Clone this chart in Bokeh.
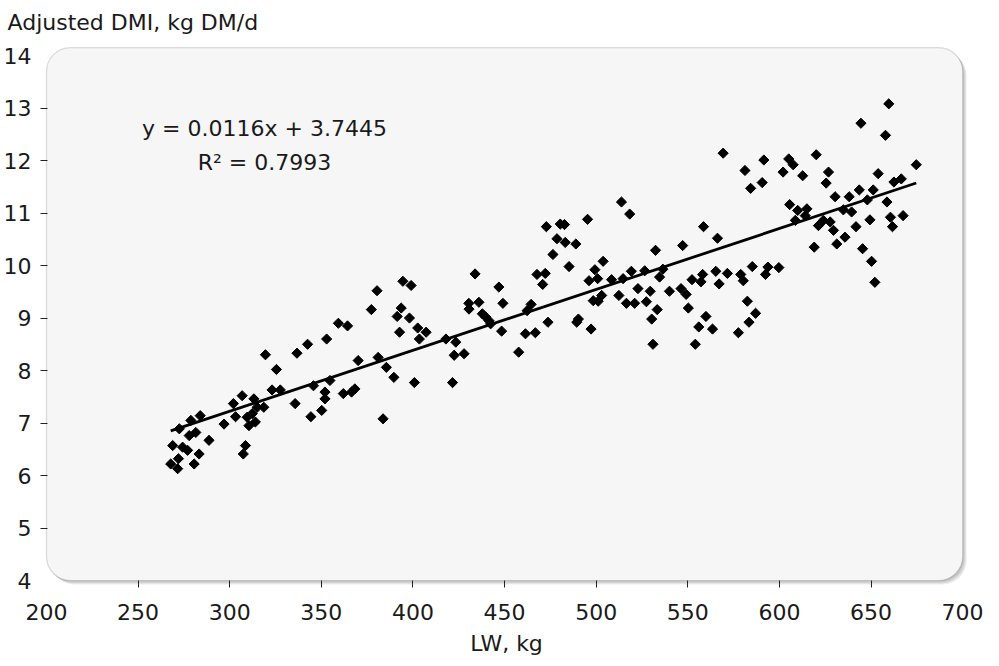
import math
from bokeh.plotting import figure
from bokeh.models import Range1d, FixedTicker, BoxAnnotation, Label, ColumnDataSource
from bokeh.embed import file_html
from bokeh.resources import INLINE

# ---- data ----
lw = [
    267.8, 271.6, 268.9, 274.3, 277.0, 272.0, 280.6, 283.3, 272.5, 277.9,
    281.5, 278.8, 283.9, 288.7, 296.9, 303.2, 302.0, 306.8, 308.6, 307.4,
    310.5, 309.5, 313.2, 315.0, 312.3, 314.0, 318.6, 319.5, 325.5, 323.1,
    327.6, 335.7, 336.7, 342.5, 344.3, 345.7,
    350.2, 352.9, 354.7, 352.0, 352.0, 362.0, 368.3, 366.5, 359.3, 364.3,
    370.1, 377.3, 380.4, 381.0, 385.5, 383.7, 389.6, 392.7, 391.4, 393.6,
    394.5, 399.0, 398.1, 402.6, 407.2, 403.5, 400.8, 418.0, 423.4, 422.5,
    427.9, 421.6, 430.6, 430.5,
    433.9, 436.0, 437.9, 439.7, 441.5, 442.4, 446.9, 449.1, 448.4, 457.7,
    461.4, 466.8, 462.3, 464.5, 467.7, 472.2, 470.8, 473.7, 472.8, 476.4,
    478.6, 480.4, 482.7, 483.1, 488.9, 485.2, 495.3, 490.3, 489.4, 497.2,
    496.1, 499.3, 500.8, 503.8, 498.4, 501.1, 503.0, 508.4, 512.4, 513.8,
    518.3, 514.7, 516.5, 519.2, 521.0, 522.8, 526.5, 529.5, 527.4, 532.4,
    533.3, 530.3, 531.0, 534.6, 536.4, 540.0, 547.2, 546.3, 549.1, 550.3,
    552.3, 554.1, 556.0, 557.2, 558.1, 558.6, 559.9, 563.5, 565.3, 566.2,
    567.1, 569.3, 571.6, 577.6, 578.9, 580.3, 582.5, 583.4, 587.0, 581.2,
    584.3, 590.6, 591.5, 585.2, 592.4, 593.7, 599.7,
    602.0, 605.1, 607.5, 620.1, 612.7, 626.8, 625.5, 605.6, 610.0, 615.0,
    608.7, 614.1, 619.0, 621.3, 624.0, 627.7, 629.5, 631.3, 630.4, 635.8,
    634.9, 638.1, 639.4, 641.8, 643.6, 645.4, 648.0, 649.4, 650.3, 652.1,
    651.2, 653.9, 658.7, 660.6, 661.7, 662.5, 666.5, 667.5, 674.7,
    659.7, 644.5, 657.9,
]
dmi = [
    6.22, 6.13, 6.57, 6.54, 6.48, 6.32, 6.22, 6.41, 6.89, 6.76,
    6.82, 7.05, 7.14, 6.67, 6.98, 7.12, 7.37, 7.52, 6.57, 6.41,
    6.95, 7.11, 7.46, 7.30, 7.18, 7.02, 7.30, 8.30, 8.02, 7.63,
    7.63, 7.37, 8.33, 8.50, 7.12, 7.71,
    7.24, 8.60, 7.81, 7.59, 7.46, 7.56, 7.65, 7.59, 8.90, 8.85,
    8.19, 9.16, 9.52, 8.25, 8.06, 7.08, 7.87, 8.73, 9.03, 9.19,
    9.70, 9.62, 9.00, 8.81, 8.73, 8.60, 7.77, 8.60, 8.54, 8.29,
    8.32, 7.77, 9.17, 9.28,
    9.84, 9.30, 9.08, 9.02, 8.95, 8.89, 9.59, 9.28, 8.75, 8.35,
    8.70, 8.72, 9.14, 9.26, 9.83, 9.85, 9.64, 8.92, 10.74, 10.21,
    10.51, 10.79, 10.78, 10.44, 10.41, 9.98, 10.88, 8.98, 8.92, 8.79,
    9.71, 9.92, 9.75, 10.08, 9.33, 9.32, 9.43, 9.73, 9.43, 11.21,
    10.98, 9.75, 9.28, 9.89, 9.28, 9.56, 9.90, 9.51, 9.31, 10.29,
    9.16, 8.98, 8.50, 9.78, 9.93, 9.51, 10.38, 9.56, 9.45, 9.19,
    9.73, 8.50, 8.83, 9.69, 9.83, 10.74, 9.03, 8.79, 9.89, 10.52,
    9.65, 12.14, 9.85, 8.72, 9.83, 9.71, 9.32, 8.92, 9.09, 11.81,
    11.47, 11.58, 12.01, 9.98, 9.83, 9.97, 9.96,
    11.78, 12.03, 11.92, 12.11, 11.71, 11.78, 11.57, 11.16, 11.05, 11.08,
    10.86, 10.95, 10.35, 10.76, 10.86, 10.83, 10.67, 10.41, 11.31, 10.54,
    11.06, 11.31, 11.02, 10.74, 11.44, 10.32, 11.25, 10.87, 10.08, 9.68,
    11.44, 11.75, 11.21, 10.92, 10.74, 11.59, 11.65, 10.95, 11.92,
    13.08, 12.71, 12.48,
]
slope = 0.0116
intercept = 3.7445
r_squared = 0.7993
x_ticks = [200, 250, 300, 350, 400, 450, 500, 550, 600, 650, 700]
y_ticks = [4, 5, 6, 7, 8, 9, 10, 11, 12, 13, 14]
x_title = "LW, kg"
y_title = "Adjusted DMI, kg DM/d"

FONT = "DejaVu Sans"
FS = "22px"
TXT = "#1a1a1a"

p = figure(width=983, height=658, output_backend="svg", toolbar_location=None,
           x_range=Range1d(198.92, 703.2), y_range=Range1d(3.886, 14.191),
           min_border_left=38, min_border_right=15, min_border_top=45,
           min_border_bottom=72)
p.background_fill_color = "white"
p.border_fill_color = "white"
p.outline_line_color = None
p.xgrid.visible = False
p.ygrid.visible = False

# title (y-axis caption placed top-left)
p.title.text = y_title
p.title.text_font = FONT
p.title.text_font_size = FS
p.title.text_font_style = "normal"
p.title.text_color = TXT
p.title.align = "left"
p.title.vertical_align = "top"
p.title.offset = -37
p.title.standoff = 18

# rounded plot-area panel with soft shadow
dxp = 1 / 1.844
dyp = 1 / 52.5
for k in (4, 3, 2, 1):
    p.add_layout(BoxAnnotation(left=200 + k * dxp, right=700 + k * dxp,
                               bottom=4 - k * dyp, top=14.15 - k * dyp,
                               fill_color="black", fill_alpha=0.07,
                               line_color=None, border_radius=24, level="underlay"))
p.add_layout(BoxAnnotation(left=200, right=700, bottom=4, top=14.15,
                           fill_color="#f6f6f6", fill_alpha=1.0,
                           line_color="#8c8c8c", line_width=1.2,
                           border_radius=24, level="underlay"))

# axes
p.xaxis.ticker = FixedTicker(ticks=x_ticks, minor_ticks=x_ticks[1:-1])
p.yaxis.ticker = FixedTicker(ticks=y_ticks, minor_ticks=y_ticks[1:-1])
for ax in (p.xaxis, p.yaxis):
    ax.axis_line_color = None
    ax.major_tick_line_color = None
    ax.major_tick_in = 0
    ax.major_tick_out = 0
    ax.minor_tick_line_color = "#222222"
    ax.minor_tick_line_width = 1
    ax.major_label_text_font = FONT
    ax.major_label_text_font_size = FS
    ax.major_label_text_color = TXT
p.xaxis.minor_tick_in = 6
p.xaxis.minor_tick_out = 1
p.yaxis.minor_tick_in = 3
p.yaxis.minor_tick_out = 4
p.xaxis.major_label_standoff = 16
p.yaxis.major_label_standoff = 9
p.xaxis.axis_label = x_title
p.xaxis.axis_label_text_font = FONT
p.xaxis.axis_label_text_font_size = FS
p.xaxis.axis_label_text_font_style = "normal"
p.xaxis.axis_label_text_color = TXT
p.xaxis.axis_label_standoff = 8

# data
src = ColumnDataSource(data=dict(x=lw, y=dmi))
p.scatter("x", "y", source=src, marker="square", size=7.2, angle=math.pi / 4,
          fill_color="black", line_color="black")

xs = [min(lw), max(lw)]
ys = [slope * v + intercept for v in xs]
p.line(xs, ys, line_color="black", line_width=2.8)

# regression annotation
p.add_layout(Label(x=319, y=12.61, text=f"y = {slope}x + {intercept}",
                   text_align="center", text_baseline="middle",
                   text_font=FONT, text_font_size=FS, text_color=TXT))
p.add_layout(Label(x=319, y=11.96, text=f"R\u00b2 = {r_squared}",
                   text_align="center", text_baseline="middle",
                   text_font=FONT, text_font_size=FS, text_color=TXT))

open("out.html", "w").write(file_html(p, INLINE))
